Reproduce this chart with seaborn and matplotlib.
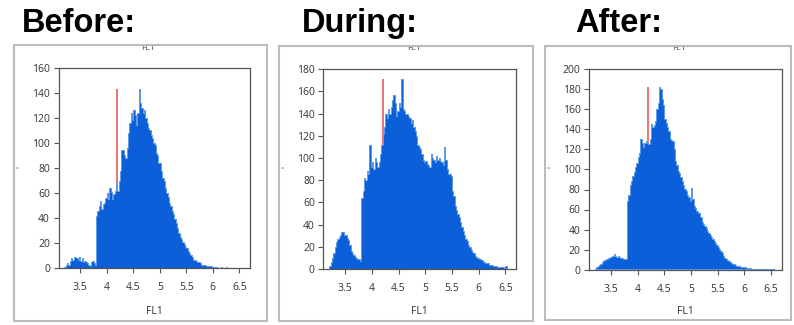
import numpy as np
import pandas as pd
import matplotlib
matplotlib.use("Agg")
import matplotlib.pyplot as plt
import seaborn as sns
from matplotlib.patches import Rectangle

# ---------------- data ----------------
panel_titles = ["Before:", "During:", "After:"]
axis_label = "FL1"
bin_width = 0.025
first_bin = 3.20
n_bins = 134

before_counts = [1, 3, 4, 3, 6, 8, 7, 9, 9, 8, 7, 9, 6, 8, 5, 6, 5, 4, 3, 2,
                 5, 6, 4, 3,
                 42, 46, 50, 54, 47, 51, 52, 56, 60, 55, 64, 61, 55, 59, 62, 68,
                 62, 70, 78, 94, 94, 90, 88, 96, 108, 116, 124, 118, 126, 122,
                 114, 124, 143, 132, 128, 124, 126, 120, 116, 112, 110, 106,
                 104, 100, 98, 92, 90, 84, 84, 78, 72, 70, 64, 60, 57, 52,
                 50, 46, 43, 39, 36, 32, 28, 25, 23, 21, 19, 17, 16, 14,
                 12, 11, 9, 7, 7, 6, 5, 5, 4, 3, 3, 3, 3, 2, 2, 2, 2, 1,
                 1, 1, 1, 0, 0, 0, 1, 0, 0, 0, 1, 0, 0, 0, 0, 0, 0, 0, 0, 0,
                 0, 0]

during_counts = [3, 6, 10, 14, 20, 24, 27, 29, 31, 33, 33, 31, 31, 28, 26, 22,
                 16, 14, 13, 11, 10, 9, 9, 7,
                 64, 70, 82, 80, 88, 86, 112, 92, 96, 90, 100, 96, 92, 96,
                 104, 112, 122, 128, 140, 136, 144, 140, 146, 152, 157, 150,
                 138, 142, 150, 146, 171, 144, 142, 140, 140, 138, 136, 132,
                 134, 128, 124, 120, 112, 110, 108, 104, 98, 96, 97, 95,
                 94, 92, 104, 100, 98, 96, 102, 98, 100, 97, 96, 94, 110, 98,
                 90, 86, 86, 84, 70, 66, 57, 53, 50, 47, 42, 38, 34, 31,
                 27, 25, 22, 20, 17, 15, 14, 12, 11, 10, 9, 9, 8, 6, 6, 5,
                 5, 5, 4, 4, 4, 3, 3, 3, 2, 2, 2, 2, 2, 1, 3, 0]

after_counts = [0, 2, 3, 4, 5, 7, 8, 9, 10, 10, 11, 12, 12, 13, 15, 13, 12, 13,
                12, 11, 11, 10, 10, 10,
                68, 74, 84, 88, 93, 97, 102, 106, 112, 116, 130, 126, 122, 126,
                128, 126, 125, 130, 145, 142, 144, 148, 160, 166, 182, 180,
                170, 164, 150, 146, 142, 138, 130, 129, 128, 120, 108, 104,
                98, 96, 92, 88, 84, 80, 78, 74, 72, 68, 81, 70, 63, 61,
                58, 56, 56, 52, 47, 45, 43, 41, 38, 36, 34, 32, 30, 28,
                26, 24, 22, 20, 18, 16, 13, 11, 10, 9, 8, 7, 6, 5, 5, 4,
                3, 3, 3, 2, 2, 2, 2, 1, 1, 1, 1, 0.5, 0.5, 0.5, 0.5, 0.3,
                0.3, 0.3, 0.3, 0.3, 0.3, 0.3, 0.3, 0.3, 0.3, 0.3, 0, 0]

panel_counts = [before_counts, during_counts, after_counts]
y_max = [160, 180, 200]
marker_x = 4.2
marker_heights = [143, 171, 182]
x_ticks = [3.5, 4, 4.5, 5, 5.5, 6, 6.5]
x_tick_labels = ["3.5", "4", "4.5", "5", "5.5", "6", "6.5"]

# ---------------- style ----------------
sns.set_style("white")
plt.rcParams["font.family"] = ["Open Sans", "DejaVu Sans"]

W, H = 794, 325
fig = plt.figure(figsize=(W / 100, H / 100), dpi=100)
fig.patch.set_facecolor("white")


def fx(px):
    return px / W


def fy(py):
    return 1 - py / H


blue = "#0b5fd9"
edge_blue = "#5e9ae6"
red = "#e86a6a"
frame_gray = "#bcbcbc"

# pixel layout: (border l, t, r, b), (axes l, t, r, b), title x
layout = [
    ((14, 44.7, 267, 321), (58.5, 67.7, 250, 268.3), 22),
    ((279, 45.7, 533, 321), (323.3, 69.3, 516, 269), 302),
    ((545, 46, 791, 320), (589, 69.5, 781.5, 269.5), 575),
]

bin_centers = first_bin + bin_width * (np.arange(n_bins) + 0.5)
bin_lo = first_bin
bin_hi = first_bin + bin_width * n_bins
for i, (border, axbox, tx) in enumerate(layout):
    bl, bt, br, bb = border
    al, at, ar, ab = axbox
    # outer frame
    fig.patches.append(Rectangle((fx(bl), fy(bb)), (br - bl) / W, (bb - bt) / H,
                                 transform=fig.transFigure, fill=False,
                                 edgecolor=frame_gray, lw=1.5, zorder=5))
    # big title
    fig.text(fx(tx), fy(32), panel_titles[i], fontsize=23.5, fontweight="bold",
             family=["Liberation Sans", "DejaVu Sans"], color="black",
             ha="left", va="baseline")
    ax = fig.add_axes([fx(al), fy(ab), (ar - al) / W, (ab - at) / H])
    df = pd.DataFrame({"x": bin_centers, "n": panel_counts[i]})
    ax.vlines(marker_x, 0, marker_heights[i], color=red, lw=1.3, zorder=1)
    sns.histplot(data=df, x="x", weights="n", binwidth=bin_width,
                 binrange=(bin_lo, bin_hi), element="step",
                 fill=True, color=blue, alpha=1, edgecolor=edge_blue,
                 linewidth=0.7, ax=ax, zorder=2)
    ax.set_xlim(3.09, 6.70)
    ax.set_ylim(0, y_max[i])
    ax.set_yticks(np.arange(0, y_max[i] + 1, 20))
    ax.set_xticks(x_ticks)
    ax.set_xticklabels(x_tick_labels)
    ax.set_xlabel("")
    ax.set_ylabel("")
    for s in ax.spines.values():
        s.set_color("#555555")
        s.set_linewidth(0.9)
        s.set_visible(True)
    ax.tick_params(axis="both", direction="out", length=3.6, width=0.8,
                   color="#555555", labelcolor="#333333", labelsize=7.5)
    ax.tick_params(axis="y", pad=2.5, left=True)
    ax.tick_params(axis="x", pad=6.5, bottom=True)
    cx = (al + ar) / 2
    # small axis title on top (cut by frame) and x label
    fig.text(fx(cx - 6), fy(48), axis_label, fontsize=6, color="#444444",
             ha="center", va="center", zorder=1)
    fig.text(fx(cx), fy(312), axis_label, fontsize=7.5, color="#333333",
             ha="center", va="center")
    fig.text(fx(bl + 2), fy(169), "=", fontsize=4, color="#555555",
             ha="left", va="center")

fig.savefig("out.png", dpi=100, facecolor="white")
